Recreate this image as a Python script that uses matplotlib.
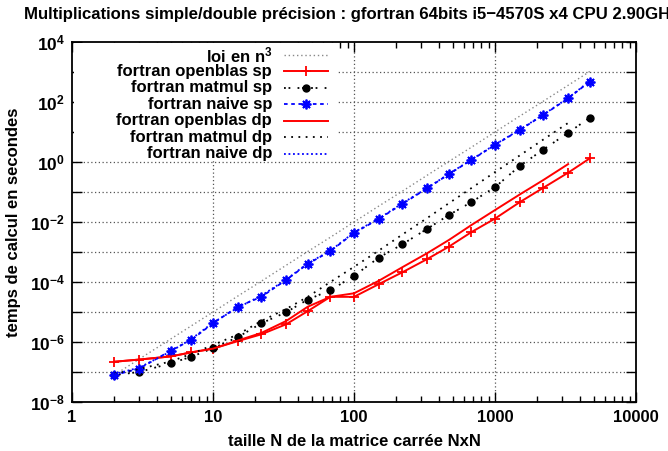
import math
import matplotlib
matplotlib.use("Agg")
import matplotlib.pyplot as plt
from matplotlib.lines import Line2D
from matplotlib.patches import Rectangle
from matplotlib.ticker import LogLocator, NullFormatter, FuncFormatter

plt.rcParams['font.family'] = ['Liberation Sans', 'DejaVu Sans']
plt.rcParams['font.weight'] = 'bold'
plt.rcParams['mathtext.fontset'] = 'custom'
plt.rcParams['mathtext.rm'] = 'Liberation Sans:bold'
plt.rcParams['mathtext.bf'] = 'Liberation Sans:bold'
plt.rcParams['mathtext.default'] = 'bf'

# matrix sizes
N = [2, 3, 5, 7, 10, 15, 22, 33, 47, 68, 100, 150, 220, 330, 470, 680,
     1000, 1500, 2200, 3300, 4700]

# loi en n^3
loi_n3 = [8e-8, 2.7e-7, 1.25e-6, 3.43e-6, 1e-5, 3.4e-5, 1.06e-4, 3.6e-4,
          1.04e-3, 3.1e-3, 1e-2, 3.4e-2, 0.106, 0.36, 1.04, 3.1, 10, 34,
          106, 360, 1040]

# single precision
openblas_sp = [2.2e-7, 2.6e-7, 3.3e-7, 4.5e-7, 6.0e-7, 1.07e-6, 1.8e-6,
               3.9e-6, 1.07e-5, 3.2e-5, 3.2e-5, 8.5e-5, 2.1e-4, 5.8e-4,
               1.5e-3, 4.6e-3, 1.3e-2, 4.6e-2, 0.138, 0.44, 1.32]
matmul_sp = [7.9e-8, 1.0e-7, 1.95e-7, 3.2e-7, 6.2e-7, 1.45e-6, 4.2e-6,
             9.8e-6, 2.6e-5, 5.3e-5, 1.6e-4, 6.5e-4, 1.8e-3, 5.9e-3,
             1.7e-2, 4.6e-2, 0.145, 0.74, 2.6, 9.4, 30]
naive_sp = [7.9e-8, 1.3e-7, 5.1e-7, 1.17e-6, 4.2e-6, 1.5e-5, 3.2e-5,
            1.17e-4, 4.0e-4, 1.07e-3, 4.3e-3, 1.26e-2, 4.0e-2, 0.132,
            0.39, 1.17, 3.7, 11.7, 37, 132, 480]

# double precision (stops at 3300 for openblas / matmul)
N_dp = [2, 3, 5, 7, 10, 15, 22, 33, 47, 68, 100, 150, 220, 330, 470, 680,
        1000, 1500, 2200, 3300]
openblas_dp = [2.2e-7, 2.6e-7, 3.3e-7, 4.5e-7, 6.0e-7, 1.12e-6, 2.0e-6,
               5.0e-6, 1.5e-5, 3.2e-5, 4.2e-5, 1.1e-4, 3.1e-4, 9.1e-4,
               2.5e-3, 7.9e-3, 2.5e-2, 8.3e-2, 0.25, 0.85]
matmul_dp = [8.9e-8, 1.26e-7, 2.24e-7, 4.0e-7, 7.9e-7, 1.78e-6, 5.0e-6,
             1.26e-5, 3.2e-5, 1.0e-4, 3.2e-4, 1.12e-3, 3.8e-3, 1.35e-2,
             4.2e-2, 0.135, 0.46, 1.66, 5.6, 20]
naive_dp = [8.5e-8, 1.4e-7, 4.8e-7, 1.25e-6, 4.4e-6, 1.4e-5, 3.5e-5,
            1.2e-4, 4.2e-4, 1.1e-3, 4.5e-3, 1.3e-2, 4.2e-2, 0.135, 0.4,
            1.2, 3.8, 12, 38, 135, 500]

fig = plt.figure(figsize=(6.68, 4.51), dpi=100)
ax = fig.add_axes([72/668, 1-402/451, 564/668, 360/451])

styles = [
    ("loi en n$^3$", N, loi_n3, dict(color='#888888', ls=(0, (1, 2)), lw=1.0)),
    ("fortran openblas sp", N, openblas_sp, dict(color='red', ls='-', lw=1.4, marker='+', ms=7, mew=1.3)),
    ("fortran matmul sp", N, matmul_sp, dict(color='black', ls=(0, (1, 1.5, 1, 4)), lw=1.3, marker='o', ms=5)),
    ("fortran naive sp", N, naive_sp, dict(color='blue', ls=(0, (2, 2)), lw=1.3, marker=(8, 2, 0), ms=7, mew=1.3)),
    ("fortran openblas dp", N_dp, openblas_dp, dict(color='red', ls='-', lw=1.4)),
    ("fortran matmul dp", N_dp, matmul_dp, dict(color='black', ls=(0, (1, 3)), lw=1.3)),
    ("fortran naive dp", N, naive_dp, dict(color='blue', ls=(0, (1, 1.5)), lw=1.3)),
]

for label, xs, ys, st in styles:
    ax.plot(xs, ys, zorder=3, **st)

ax.set_xscale('log')
ax.set_yscale('log')
ax.set_xlim(1, 10000)
ax.set_ylim(1e-8, 1e4)

# grid (gnuplot style: dotted, inner decades only)
for gx in [10, 100, 1000]:
    ax.axvline(gx, color='#555555', ls=(0, (1, 2)), lw=0.9, zorder=1)
for e in range(-7, 4):
    ax.axhline(10.0 ** e, color='#555555', ls=(0, (1, 2)), lw=0.9, zorder=1)

ax.xaxis.set_major_locator(LogLocator(base=10, numticks=10))
ax.xaxis.set_minor_locator(LogLocator(base=10, subs=range(2, 10), numticks=20))
ax.xaxis.set_minor_formatter(NullFormatter())
ax.xaxis.set_major_formatter(FuncFormatter(lambda v, p: '%d' % round(v)))
ax.yaxis.set_major_locator(LogLocator(base=10, numticks=20))
ax.yaxis.set_minor_locator(LogLocator(base=10, subs=[], numticks=20))
ax.yaxis.set_minor_formatter(NullFormatter())

def ylab(v, p):
    e = int(round(math.log10(v)))
    if e % 2:
        return ''
    return r'$\mathbf{10^{%d}}$' % e
ax.yaxis.set_major_formatter(FuncFormatter(ylab))

ax.tick_params(which='both', direction='in', top=True, right=True,
               labelsize=12, width=1)
ax.tick_params(which='major', length=7, pad=6)
ax.tick_params(which='minor', length=4)
ax.tick_params(axis='y', labelsize=12.5, pad=5)
for s in ax.spines.values():
    s.set_linewidth(1.3)

ax.set_xlabel('taille N de la matrice carrée NxN', fontsize=12, fontweight='bold', labelpad=6)
ax.set_ylabel('temps de calcul en secondes', fontsize=12, fontweight='bold')
ax.yaxis.set_label_coords(-0.09, 0.5)

fig.text(24/668, 1-15/451,
         'Multiplications simple/double précision : gfortran 64bits i5−4570S x4 CPU 2.90GHz',
         fontsize=12.1, fontweight='bold', va='center', ha='left')

# opaque key box
ax.add_patch(Rectangle((0.003, 0.672), 0.467, 0.325, transform=ax.transAxes,
                       facecolor='white', edgecolor='none', zorder=2))
y0 = 0.964
dy = 0.0458
for i, (label, xs, ys, st) in enumerate(styles):
    yy = y0 - i * dy
    ax.text(0.355, yy, label, transform=ax.transAxes, ha='right', va='center',
            fontsize=12, fontweight='bold', zorder=4)
    kw = dict(st)
    mk = kw.pop('marker', None)
    ms = kw.pop('ms', None)
    mew = kw.pop('mew', None)
    ax.add_line(Line2D([0.376, 0.454], [yy, yy], transform=ax.transAxes, zorder=4, **kw))
    if mk is not None:
        ax.add_line(Line2D([0.415], [yy], transform=ax.transAxes, zorder=4,
                           color=kw['color'], marker=mk, ms=ms,
                           mew=mew if mew else 1, ls='none'))

fig.savefig('out.png', dpi=100)
